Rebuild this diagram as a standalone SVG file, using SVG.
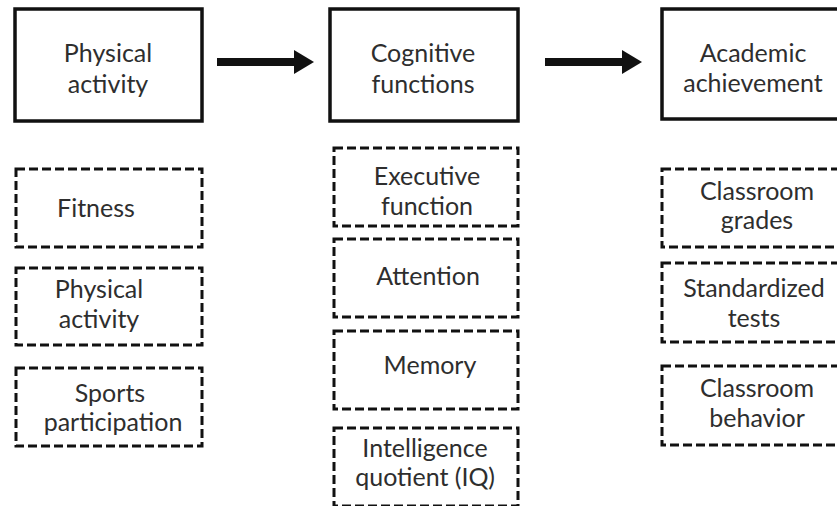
<svg xmlns="http://www.w3.org/2000/svg" width="837" height="506" viewBox="0 0 837 506">
<defs>
<style>
.main{fill:#fff;stroke:#111;stroke-width:3.5}
.sub{fill:#fff;stroke:#111;stroke-width:3;stroke-dasharray:9 4}
text{font-family:Lato,"Liberation Sans",sans-serif;font-size:25px;fill:#2e2e2e;text-anchor:middle}
.conn{stroke:#111;stroke-width:8;fill:none}
</style>
<marker id="ah" markerUnits="userSpaceOnUse" markerWidth="22" markerHeight="24" refX="0" refY="12" orient="auto">
<polygon points="0,0 20,12 0,24" fill="#111"/>
</marker>
</defs>
<rect width="837" height="506" fill="#fff"/>
<g id="connectors">
<line class="conn" x1="217" y1="62" x2="294" y2="62" marker-end="url(#ah)"/>
<line class="conn" x1="545" y1="62" x2="622" y2="62" marker-end="url(#ah)"/>
</g>
<g id="n-physical-activity">
<rect class="main" x="15" y="9" width="187" height="112"/>
<text x="108" y="62">Physical</text>
<text x="108" y="93">activity</text>
</g>
<g id="n-cognitive-functions">
<rect class="main" x="330" y="9" width="188" height="112"/>
<text x="423" y="62">Cognitive</text>
<text x="423" y="93">functions</text>
</g>
<g id="n-academic-achievement">
<rect class="main" x="662" y="9" width="190" height="110"/>
<text x="753" y="62">Academic</text>
<text x="753" y="92">achievement</text>
</g>
<g id="n-fitness">
<rect class="sub" x="16" y="169" width="186" height="78"/>
<text x="96" y="217">Fitness</text>
</g>
<g id="n-physical-activity-sub">
<rect class="sub" x="16" y="268" width="186" height="77"/>
<text x="99" y="298">Physical</text>
<text x="99" y="328">activity</text>
</g>
<g id="n-sports">
<rect class="sub" x="16" y="368" width="186" height="78"/>
<text x="110" y="402">Sports</text>
<text x="113" y="431">participation</text>
</g>
<g id="n-executive">
<rect class="sub" x="334" y="148" width="184" height="78"/>
<text x="427" y="185">Executive</text>
<text x="427" y="215">function</text>
</g>
<g id="n-attention">
<rect class="sub" x="334" y="239" width="184" height="78"/>
<text x="428" y="285">Attention</text>
</g>
<g id="n-memory">
<rect class="sub" x="334" y="331" width="184" height="78"/>
<text x="430" y="374">Memory</text>
</g>
<g id="n-iq">
<rect class="sub" x="334" y="428" width="184" height="78"/>
<text x="425" y="457">Intelligence</text>
<text x="425" y="486">quotient (IQ)</text>
</g>
<g id="n-grades">
<rect class="sub" x="662" y="169" width="190" height="78"/>
<text x="757" y="200">Classroom</text>
<text x="757" y="229">grades</text>
</g>
<g id="n-tests">
<rect class="sub" x="662" y="263" width="190" height="79"/>
<text x="754" y="297">Standardized</text>
<text x="754" y="327">tests</text>
</g>
<g id="n-behavior">
<rect class="sub" x="662" y="366" width="190" height="79"/>
<text x="757" y="397">Classroom</text>
<text x="757" y="427">behavior</text>
</g>
</svg>
